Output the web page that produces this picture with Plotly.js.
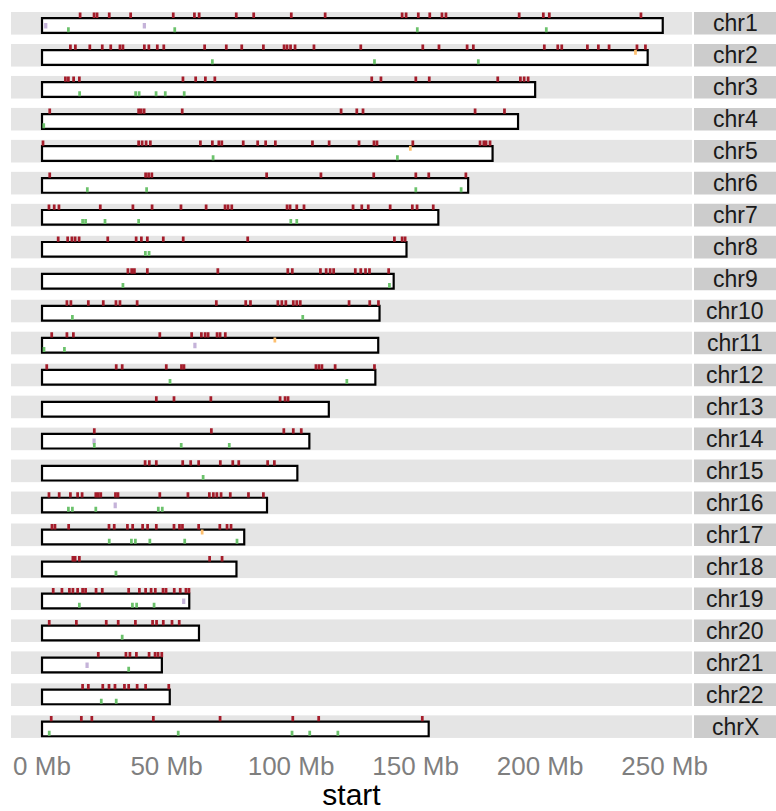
<!DOCTYPE html>
<html><head><meta charset="utf-8">
<script src="https://cdn.plot.ly/plotly-3.0.1.min.js"></script>
<style>html,body{margin:0;padding:0;background:#fff}#chart{width:776px;height:811px}</style>
</head><body><div id="chart"></div>
<script>
// ---------- data (positions in Mb) ----------
const chromosomes = ["chr1","chr2","chr3","chr4","chr5","chr6","chr7","chr8","chr9","chr10","chr11","chr12","chr13","chr14","chr15","chr16","chr17","chr18","chr19","chr20","chr21","chr22","chrX"];
const chromLengthsMb = [249.25,243.20,198.02,191.15,180.92,171.12,159.14,146.36,141.21,135.53,135.01,133.85,115.17,107.35,102.53,90.35,81.20,78.08,59.13,63.03,48.13,51.30,155.27];

const redMarks = [
  [15.3,20.9,22.1,27.0,35.6,52.7,61.2,63.1,78.0,85.0,100.1,113.7,144.6,146.2,151.1,155.7,160.6,162.2,191.6,201.3,203.7,240.5],
  [11.4,13.4,19.2,24.2,27.6,31.3,32.5,41.1,42.9,46.3,48.9,65.3,74.0,80.2,88.9,97.2,98.4,99.8,101.6,109.2,128.0,152.9,159.4,170.7,173.2,201.7,207.1,208.7,219.0,223.4,227.7,238.9,242.3],
  [9.4,10.6,12.7,15.0,56.6,61.7,65.6,69.4,132.4,136.1,150.1,155.5,183.0,192.1,193.6,195.2],
  [3.1,38.8,39.8,41.0,56.3,120.1,126.4,128.9,173.9,185.7],
  [0.4,38.8,40.2,41.8,43.5,63.6,68.4,71.0,72.2,80.8,86.6,89.8,93.7,108.6,115.3,127.3,133.3,134.5,148.9,175.9,177.4,178.3,179.9],
  [3.1,41.6,42.8,44.1,90.2,112.0,133.2,150.1,155.3,170.2],
  [2.8,4.9,6.8,23.4,36.5,44.2,55.8,65.9,73.5,74.7,76.2,98.4,99.6,102.3,105.2,124.9,128.4,131.0,139.8,148.7,150.6,157.1],
  [6.5,10.3,12.0,13.3,14.9,26.4,37.8,39.9,42.3,48.7,56.7,82.6,141.5,144.6,145.8],
  [34.5,36.0,37.1,42.3,70.6,98.7,100.5,111.8,114.1,115.7,117.1,125.8,128.0,129.9,131.5,139.2],
  [10.0,11.6,18.6,24.6,29.7,31.3,38.2,70.0,81.8,83.7,94.7,96.3,97.9,100.9,102.3,103.7,123.3,131.6,135.1],
  [3.9,10.0,12.6,47.3,60.1,64.0,65.5,66.7,70.3,71.5,73.6],
  [1.9,29.8,32.2,49.9,56.0,57.0,110.0,111.2,112.4,117.7,133.5],
  [45.9,53.0,67.8,95.6,97.6,98.8],
  [21.0,68.0,97.1,100.9,104.1],
  [41.4,43.1,45.9,56.5,59.7,62.9,71.6,76.6,79.0,90.6,93.3],
  [2.8,6.9,11.4,14.3,16.1,21.6,22.6,23.6,29.5,30.5,47.3,58.6,67.2,68.8,70.2,71.9,75.6,82.9,88.9],
  [4.0,5.2,10.7,26.9,29.0,34.3,36.4,40.4,42.4,45.9,53.0,55.2,56.4,62.9,71.4,74.3,75.9],
  [12.4,13.3,15.0,67.3,72.3],
  [4.5,8.0,11.0,12.4,14.3,16.3,17.5,21.7,24.2,34.8,39.1,41.6,43.8,45.5,48.6,49.8,53.1,55.5,57.8,59.0],
  [2.9,13.8,25.8,30.6,37.5,44.4,46.0,48.7,52.2,55.1],
  [22.6,33.7,35.3,37.9,43.0,45.4,46.6,48.1],
  [16.3,18.6,24.4,26.9,29.3,33.1,34.8,38.2,41.6,50.9],
  [3.7,15.8,20.0,44.7,71.5,100.7,111.1,152.7]
];
const greenMarks = [
  [10.6,53.3,150.7,202.5],
  [68.4,133.5,175.2],
  [15.1,37.6,39.0,45.8,49.5,57.1],
  [0.7],
  [68.7,142.7],
  [18.2,42.0,150.1,168.3],
  [16.3,17.5,25.3,38.8,99.9,102.3],
  [41.5,43.0],
  [32.5,139.5],
  [12.2,104.7],
  [0.8,9.0],
  [51.4,122.4],
  [],
  [21.0,55.9,75.2],
  [64.7],
  [10.6,12.2,21.6,46.7,48.3],
  [27.0,35.9,37.5,43.3,57.3,78.3],
  [29.7],
  [15.0,36.3,38.0,45.0],
  [32.2],
  [34.8],
  [23.8,29.8],
  [2.9,54.7,100.4,107.5,118.8]
];
const purpleMarks = [[1.5,41.1],[],[],[],[],[],[],[],[],[],[61.4],[],[],[20.9],[],[29.4],[],[],[56.9],[],[18.1],[],[]];
const orangeMarks = [[],[238.3],[],[],[147.9],[],[],[],[],[],[93.5],[],[],[],[],[],[64.3],[],[],[],[],[],[]];

const tickValues = [0,50,100,150,200,250];
const tickLabels = ["0 Mb","50 Mb","100 Mb","150 Mb","200 Mb","250 Mb"];

// ---------- styling / geometry ----------
const W = 776, H = 811, mL = 11, mR = 84, mT = 12, mB = 73;
const plotH = H - mT - mB, plotW = W - mL - mR;
const pitch = 31.97, bandH = 22.6;
const colors = {red:"#a51d2b", green:"#6cc26c", purple:"#c5b3d9", orange:"#fdbf6f"};
const tracks = [
  {data: redMarks, color: colors.red, base: 16.7, h: 5.3, w: 1.1},
  {data: orangeMarks, color: colors.orange, base: 11.7, h: 5.0, w: 1.1},
  {data: purpleMarks, color: colors.purple, base: 6.0, h: 5.6, w: 1.3},
  {data: greenMarks, color: colors.green, base: 2.3, h: 5.0, w: 1.1}
];

const traces = [];
const layout = {
  width: W, height: H,
  margin: {l: mL, r: mR, t: mT, b: mB, pad: 0},
  paper_bgcolor: "#ffffff", plot_bgcolor: "#e5e5e5",
  barmode: "overlay", showlegend: false,
  font: {family: "Liberation Sans, Arial, sans-serif"},
  shapes: [], annotations: [],
  xaxis: {
    domain: [0, 1], range: [-12.45, 261.0], anchor: "y" + chromosomes.length,
    tickvals: tickValues, ticktext: tickLabels,
    showgrid: false, zeroline: false, showline: false, ticks: "",
    ticklabelstandoff: 10,
    tickfont: {size: 26, color: "#7f7f7f", family: "Liberation Sans, Arial, sans-serif"},
    title: {text: "start", font: {size: 30, color: "#000000", family: "Liberation Sans, Arial, sans-serif"}, standoff: 6}
  }
};

chromosomes.forEach((name, i) => {
  const n = i + 1;
  const ya = n === 1 ? "y" : "y" + n;
  const yKey = n === 1 ? "yaxis" : "yaxis" + n;
  const top = mT + i * pitch, bottom = top + bandH;
  layout[yKey] = {
    domain: [Math.max(0, (H - mB - bottom) / plotH), Math.min(1, (H - mB - top) / plotH)],
    range: [0, bandH], fixedrange: true,
    showgrid: false, zeroline: false, showline: false, showticklabels: false, ticks: ""
  };
  // chromosome body
  traces.push({
    type: "bar", orientation: "h", xaxis: "x", yaxis: ya,
    y: [9.05], x: [chromLengthsMb[i]], base: [0], width: [14.7],
    marker: {color: "#ffffff", line: {color: "#000000", width: 2.2}},
    hoverinfo: "skip"
  });
  // feature tracks
  tracks.forEach(t => {
    const xs = t.data[i];
    if (!xs.length) return;
    traces.push({
      type: "bar", orientation: "v", xaxis: "x", yaxis: ya,
      x: xs, y: xs.map(() => t.h), base: t.base, width: t.w,
      marker: {color: t.color, line: {width: 0}},
      hoverinfo: "skip"
    });
  });
  // strip
  layout.shapes.push({
    type: "rect", xref: "paper", yref: ya + " domain",
    x0: (694 - mL) / plotW, x1: (W - mL) / plotW, y0: 0, y1: 1,
    fillcolor: "#cccccc", line: {width: 0}, layer: "below"
  });
  layout.annotations.push({
    xref: "paper", yref: ya + " domain", x: (735.3 - mL) / plotW, y: 0.5,
    xanchor: "center", yanchor: "middle", showarrow: false, text: name,
    font: {size: 23, color: "#1a1a1a", family: "Liberation Sans, Arial, sans-serif"}
  });
});

Plotly.newPlot("chart", traces, layout, {staticPlot: true, displayModeBar: false});
</script>
</body></html>
